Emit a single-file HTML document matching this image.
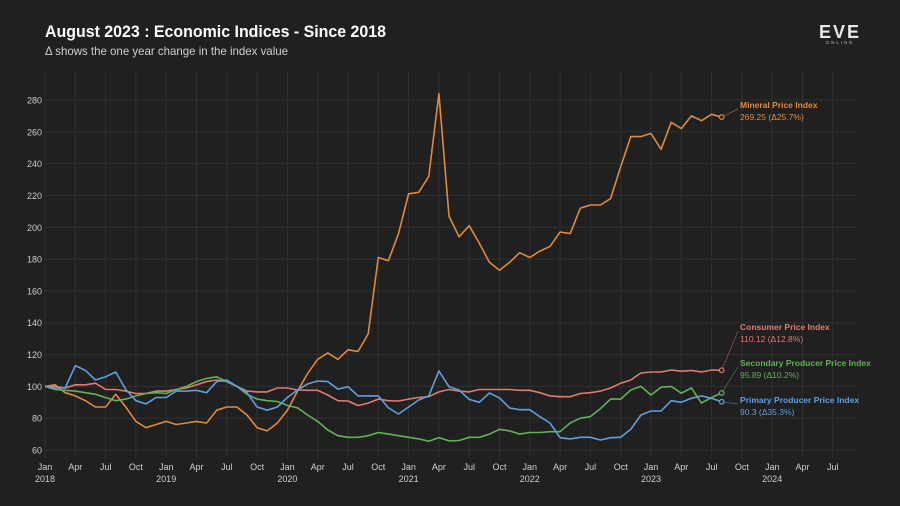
<!DOCTYPE html>
<html><head><meta charset="utf-8"><style>
body{margin:0;background:#202020;width:900px;height:506px;overflow:hidden;font-family:"Liberation Sans",sans-serif}
svg{display:block}
</style></head><body>
<svg id="c" width="900" height="506">
<rect width="900" height="506" fill="#202020"/>
<text x="45" y="37" fill="#fff" font-size="17" font-weight="bold" textLength="341" lengthAdjust="spacingAndGlyphs">August 2023 : Economic Indices - Since 2018</text>
<text x="45" y="55" fill="#cfcfcf" font-size="12" textLength="243" lengthAdjust="spacingAndGlyphs">Δ shows the one year change in the index value</text>
<g>
<text x="840" y="38" fill="#e8e8e8" font-size="18" font-weight="bold" text-anchor="middle" letter-spacing="2">EVE</text>
<text x="840" y="44" fill="#bbb" font-size="4.5" text-anchor="middle" letter-spacing="2">ONLINE</text>
</g>
<g id="grid"></g><g id="axes"></g><g id="series"></g><g id="labels"></g>
</svg>
<script>
const months=Array.from({length:68},(_,i)=>i);
const mineral=[100,101,96,94,91,87,87,95,87,78,74,76,78,76,77,78,77,85,87,87,82,74,72,77,85,97,108,117,121,117,123,122,133,181,179,196,221,222,232,284,207,194,201,190,178,173,178,184,181,185,188,197,196,212,214,214,218,238,257,257,259,249,266,262,270,267,271,269.25];
const cpi=[100,100,99,101,101,102,98,98,97,95.5,95.5,97,97,98,99,101,103,104,103,100,97,96.5,96.5,99,99,97.7,97.5,97.5,94.6,91,90.8,88,89.5,92,91,90.8,92,93,93.5,96.5,98,97,96.5,98,98,98,98,97.5,97.5,96,94,93.5,93.5,95.5,96,97,99,102,104,108.4,109,109,110.3,109.5,110,109,110.3,110.12];
const secondary=[100,98,97.5,97,96,95,93,91,92,94,95.5,96,95.5,98,100,103,105,106,103,100,95,92,91,90.5,88,86.5,82,78,72.6,69,68,68,69,71,70,69,68,67,65.5,67.8,65.7,66,68,68,70,73,72,70,71,71,71.5,71.5,77,80,81,86,92,92,97.7,100,94.6,99.5,100,95.7,99,89.5,93,95.89];
const primary=[100,99,99,113,110,104,106,109,98,91,89,93,93,97,97,97.5,96,103,104,100,96,87,85,87,93,97.7,101.5,103.4,103,98.3,99.8,94,94,94,86.5,82.6,87,91.4,94,109.7,99.8,97.7,91.8,90,95.8,92.7,86.4,85.3,85.3,80.9,77,67.7,67,68,68,66.3,67.7,68,73,82,84.5,84.5,91,90,92.5,94,92.5,90.3];
const yTicks=[60,80,100,120,140,160,180,200,220,240,260,280];
const xTickLabels=["Jan","Apr","Jul","Oct"];
const years=["2018","2019","2020","2021","2022","2023","2024"];
const seriesNames=["Mineral Price Index","Consumer Price Index","Secondary Producer Price Index","Primary Producer Price Index"];
const deltas=["269.25 (Δ25.7%)","110.12 (Δ12.8%)","95.89 (Δ10.2%)","90.3 (Δ35.3%)"];

const X=m=>45+m*10.1;
const Y=v=>450-(v-60)*1.591;
const NS="http://www.w3.org/2000/svg";
function mk(tag,attrs,parent,txt){const e=document.createElementNS(NS,tag);for(const k in attrs)e.setAttribute(k,attrs[k]);if(txt!=null)e.textContent=txt;parent.appendChild(e);return e;}
const grid=document.getElementById('grid'),axes=document.getElementById('axes'),ser=document.getElementById('series'),lab=document.getElementById('labels');
yTicks.forEach(t=>{
  const l=mk('line',{x1:45,x2:856,y1:Y(t),y2:Y(t),stroke:'#303030','stroke-width':1},grid);
  
  
  const tx=mk('text',{x:42,y:Y(t)+3.5,fill:'#cfcfcf','font-size':9,'text-anchor':'end'},axes,String(t));
  
  
});
for(let m=0;m<=78;m+=3){
  const l=mk('line',{x1:X(m),x2:X(m),y1:72,y2:458,stroke:'#303030','stroke-width':1},grid);
  
  
  const tx=mk('text',{x:X(m),y:470,fill:'#cfcfcf','font-size':9,'text-anchor':'middle'},axes,xTickLabels[(m/3)%4]);
  
  
  if(m%12===0){
    const ty=mk('text',{x:X(m),y:482,fill:'#cfcfcf','font-size':9,'text-anchor':'middle'},axes,years[m/12]);
    
    
  }
}
const data=[mineral,cpi,secondary,primary];
const colors=["#e08a3c","#e07a72","#62b058","#5f9fe0"];
const labelY=[105,327,363,400];
data.forEach((d,i)=>{
  const pts=d.map((v,j)=>X(months[j]).toFixed(1)+','+Y(v).toFixed(1)).join(' ');
  const p=mk('polyline',{points:pts,fill:'none',stroke:colors[i],'stroke-width':1.6,'stroke-linejoin':'round'},ser);
  
  
  const lx=X(months[d.length-1]),ly=Y(d[d.length-1]);
  const ld=mk('line',{x1:lx,y1:ly,x2:738,y2:labelY[i]+4,stroke:colors[i],'stroke-width':0.7,opacity:0.6},ser);
  
  
  const c=mk('circle',{cx:lx,cy:ly,r:2.3,fill:'#202020',stroke:colors[i],'stroke-width':1.2},ser);
  
  
  const t1=mk('text',{x:740,y:labelY[i]+3,fill:colors[i],'font-size':8.5,'font-weight':'bold'},lab,seriesNames[i]);
  
  
  const t2=mk('text',{x:740,y:labelY[i]+15,fill:colors[i],'font-size':8.5},lab,deltas[i]);
  
  
});
</script>
</body></html>
